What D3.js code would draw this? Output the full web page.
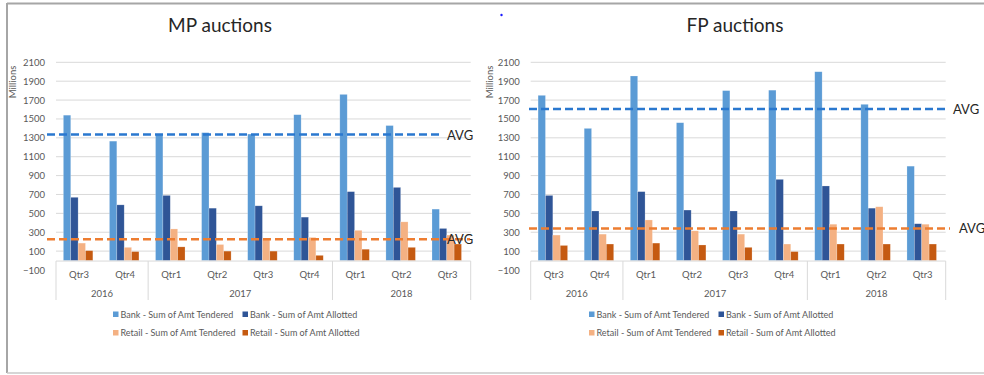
<!DOCTYPE html>
<html>
<head>
<meta charset="utf-8">
<script src="https://cdn.jsdelivr.net/npm/d3@7/dist/d3.min.js"></script>
<style>
  html, body { margin: 0; padding: 0; background: #fff; }
  svg { display: block; font-family: Lato, "Open Sans", sans-serif; }
</style>
</head>
<body>
<svg id="chart" width="984" height="375"></svg>
<script>
// Quarterly categories and their year groups
const quarters = ["Qtr3", "Qtr4", "Qtr1", "Qtr2", "Qtr3", "Qtr4", "Qtr1", "Qtr2", "Qtr3"];
const years = [
  { label: "2016", span: 2 },
  { label: "2017", span: 4 },
  { label: "2018", span: 3 }
];
const seriesNames = [
  "Bank - Sum of Amt Tendered",
  "Bank - Sum of Amt Allotted",
  "Retail - Sum of Amt Tendered",
  "Retail - Sum of Amt Allotted"
];
const yTicks = [-100, 100, 300, 500, 700, 900, 1100, 1300, 1500, 1700, 1900, 2100];

// MP auctions (millions)
const mpBankTendered   = [1540, 1265, 1340, 1355, 1340, 1545, 1760, 1430, 545];
const mpBankAllotted   = [670, 590, 690, 555, 580, 460, 730, 775, 340];
const mpRetailTendered = [185, 140, 335, 170, 230, 245, 320, 410, 270];
const mpRetailAllotted = [105, 95, 145, 100, 100, 55, 120, 140, 175];
const mpAvg = [1335, 225];

// FP auctions (millions)
const fpBankTendered   = [1750, 1400, 1955, 1460, 1800, 1805, 2000, 1655, 1000];
const fpBankAllotted   = [690, 525, 730, 535, 525, 860, 790, 555, 390];
const fpRetailTendered = [270, 280, 430, 315, 280, 175, 385, 570, 385];
const fpRetailAllotted = [160, 175, 185, 165, 140, 95, 175, 175, 175];
const fpAvg = [1605, 340];

const colors = ["#5B9BD5", "#2F5597", "#F4B183", "#C55A11"];
const avgColors = ["#2A78CF", "#ED7D31"];
const textGray = "#595959";

const svg = d3.select("#chart");

// Legend font size chosen so the longest entry fits its column
const probe = svg.append("text").attr("font-size", 10).text(seriesNames[0]);
const legendFont = Math.min(10, 10 * 113 / probe.node().getComputedTextLength());
probe.remove();

// Outer frame
svg.append("line").attr("x1", 7).attr("x2", 984).attr("y1", 3.5).attr("y2", 3.5)
  .attr("stroke", "#A6A6A6").attr("stroke-width", 2);
svg.append("line").attr("x1", 7).attr("x2", 7).attr("y1", 3).attr("y2", 373)
  .attr("stroke", "#A6A6A6").attr("stroke-width", 2);
svg.append("line").attr("x1", 7).attr("x2", 984).attr("y1", 373).attr("y2", 373)
  .attr("stroke", "#C8C8C8").attr("stroke-width", 1.5);
svg.append("circle").attr("cx", 501.5).attr("cy", 15).attr("r", 1.2).attr("fill", "#1a1aff");

const y = d3.scaleLinear().domain([-100, 2100]).range([270, 62.3]);

function drawChart(opt) {
  const g = svg.append("g");
  const keys = quarters.map((q, i) => i);
  const x = d3.scaleBand().domain(keys).range([opt.x0, opt.x1]).padding(0);
  const bw = x.bandwidth();
  const xs = d3.scaleBand().domain(d3.range(4)).range([bw * 0.16, bw * 0.80]).padding(0);

  // Title
  g.append("text").attr("x", opt.titleX).attr("y", 32).attr("text-anchor", "middle")
    .attr("font-size", 19).attr("fill", "#262626").text(opt.title);

  // Axis title
  g.append("text").attr("transform", `translate(${opt.millionsX},82) rotate(-90)`)
    .attr("text-anchor", "middle").attr("font-size", 9.5).attr("fill", textGray).text("Millions");

  // Gridlines
  g.append("g").selectAll("line").data(yTicks.filter(t => t > 0)).join("line")
    .attr("x1", opt.x0).attr("x2", opt.x1)
    .attr("y1", d => y(d)).attr("y2", d => y(d))
    .attr("stroke", "#D9D9D9").attr("stroke-width", 1);

  // Value axis labels
  const yAxis = d3.axisLeft(y).tickValues(yTicks).tickFormat(d3.format("d"))
    .tickSize(0).tickPadding(0);
  const ya = g.append("g").attr("transform", `translate(${opt.x0 - 11},0)`).call(yAxis);
  ya.select(".domain").remove();
  ya.selectAll("text").attr("font-size", 9.5).attr("fill", textGray)
    .attr("font-family", "Lato, sans-serif");

  // Bars
  const series = opt.series;
  const bars = [];
  series.forEach((vals, s) => vals.forEach((v, i) => bars.push({ s, i, v })));
  g.append("g").selectAll("rect").data(bars).join("rect")
    .attr("x", d => x(d.i) + xs(d.s))
    .attr("width", xs.bandwidth())
    .attr("y", d => y(Math.max(0, d.v)))
    .attr("height", d => Math.abs(y(d.v) - y(0)))
    .attr("fill", d => colors[d.s])
    .attr("stroke", "rgba(255,255,255,0.35)").attr("stroke-width", 0.6);

  // Category axis line at zero
  g.append("line").attr("x1", opt.x0).attr("x2", opt.x1)
    .attr("y1", y(0) + 0.5).attr("y2", y(0) + 0.5)
    .attr("stroke", "#D9D9D9").attr("stroke-width", 1);

  // Quarter labels
  g.append("g").selectAll("text").data(keys).join("text")
    .attr("x", d => x(d) + bw / 2).attr("y", 277.5)
    .attr("text-anchor", "middle").attr("font-size", 9.5).attr("fill", textGray)
    .text(d => quarters[d]);

  // Year group separators and labels
  let start = 0;
  const bounds = [0];
  years.forEach(yr => { start += yr.span; bounds.push(start); });
  g.append("g").selectAll("line").data(bounds).join("line")
    .attr("x1", d => d < keys.length ? x(d) : opt.x1)
    .attr("x2", d => d < keys.length ? x(d) : opt.x1)
    .attr("y1", y(0) + 0.5).attr("y2", 300)
    .attr("stroke", "#D9D9D9").attr("stroke-width", 1);
  g.append("g").selectAll("text").data(years).join("text")
    .attr("x", (d, i) => {
      const a = x(bounds[i]);
      const b = bounds[i + 1] < keys.length ? x(bounds[i + 1]) : opt.x1;
      return (a + b) / 2;
    })
    .attr("y", 297).attr("text-anchor", "middle").attr("font-size", 9.5).attr("fill", textGray)
    .text(d => d.label);

  // Average lines
  opt.avg.forEach((a, k) => {
    g.append("line").attr("x1", opt.avgStart).attr("x2", opt.avgEnd[k])
      .attr("y1", y(a)).attr("y2", y(a))
      .attr("stroke", avgColors[k]).attr("stroke-width", 2.6)
      .attr("stroke-dasharray", "8,4");
    g.append("text").attr("x", opt.avgLabelX[k]).attr("y", y(a) + 5)
      .attr("font-size", 13).attr("fill", "#262626").text("AVG");
  });

  // Legend
  const legend = g.append("g");
  seriesNames.forEach((name, s) => {
    const lx = opt.legendX[s % 2];
    const ly = s < 2 ? 314.5 : 333;
    legend.append("rect").attr("x", lx).attr("y", ly - 3).attr("width", 5.5).attr("height", 5.5)
      .attr("fill", colors[s]);
    legend.append("text").attr("x", lx + 7.5).attr("y", ly + 3)
      .attr("font-size", legendFont).attr("fill", textGray).text(name);
  });
}

drawChart({
  title: "MP auctions", titleX: 220, millionsX: 16,
  x0: 56, x1: 470.7,
  series: [mpBankTendered, mpBankAllotted, mpRetailTendered, mpRetailAllotted],
  avg: mpAvg, avgStart: 47, avgEnd: [443, 470], avgLabelX: [447, 447],
  legendX: [113, 242.5]
});

drawChart({
  title: "FP auctions", titleX: 735, millionsX: 493,
  x0: 530.7, x1: 945.7,
  series: [fpBankTendered, fpBankAllotted, fpRetailTendered, fpRetailAllotted],
  avg: fpAvg, avgStart: 529, avgEnd: [945, 950], avgLabelX: [953, 959],
  legendX: [589, 718.5]
});
</script>
</body>
</html>
